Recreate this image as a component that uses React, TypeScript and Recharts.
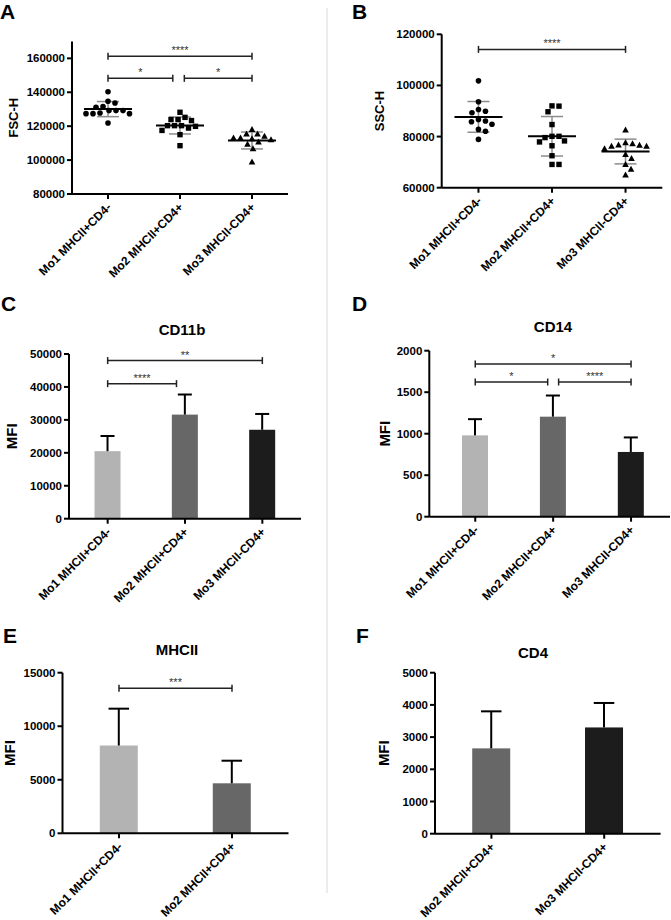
import React from 'react';
import { ScatterChart, Scatter, BarChart, Bar, XAxis, YAxis, ErrorBar, ReferenceLine } from 'recharts';

const FONT = '"Liberation Sans", Arial, Helvetica, sans-serif';

const groups = ['Mo1 MHCII+CD4-', 'Mo2 MHCII+CD4+', 'Mo3 MHCII-CD4+'];

// A: FSC-H, one value per sample
const fscMo1 = [140300, 133700, 134700, 131200, 129200, 129200, 129200, 131600, 127400, 127400, 127800, 127400, 121900];
const fscMo2 = [128200, 125200, 123900, 123300, 123900, 119900, 120300, 120300, 118900, 120300, 117500, 115000, 108500];
const fscMo3 = [118000, 115400, 115400, 114000, 112600, 113000, 113000, 112000, 109400, 110600, 106700, 98800];
const fscTicks = [80000, 100000, 120000, 140000, 160000];

// B: SSC-H
const sscMo1 = [101800, 93600, 89900, 90600, 89300, 85800, 86700, 86100, 84800, 82800, 82100, 78900];
const sscMo2 = [91900, 92000, 89700, 84700, 80100, 79600, 80100, 77900, 78300, 76400, 72500, 69100, 69100];
const sscMo3 = [82600, 77200, 77600, 76700, 76600, 76200, 76200, 75200, 73000, 71400, 69100, 67200, 65000];
const sscTicks = [60000, 80000, 100000, 120000];

// C-F: mean MFI + SD
const cd11bMean = [20500, 31600, 27000];
const cd11bSd = [4600, 6100, 4800];
const cd11bTicks = [0, 10000, 20000, 30000, 40000, 50000];

const cd14Mean = [980, 1205, 780];
const cd14Sd = [195, 255, 175];
const cd14Ticks = [0, 500, 1000, 1500, 2000];

const mhciiMean = [8200, 4670];
const mhciiSd = [3440, 2110];
const mhciiTicks = [0, 5000, 10000, 15000];

const cd4Mean = [2650, 3300];
const cd4Sd = [1150, 760];
const cd4Ticks = [0, 1000, 2000, 3000, 4000, 5000];

const barFills = ['#b3b3b3', '#676767', '#1c1c1c'];

// significance brackets (x in group units, group centre = i + 0.5)
const fscSig = [
  { from: 0.5, to: 2.5, y: 161200, stars: '****' },
  { from: 0.5, to: 1.4, y: 148200, stars: '*' },
  { from: 1.56, to: 2.5, y: 148200, stars: '*' },
];
const sscSig = [{ from: 0.5, to: 2.5, y: 114100, stars: '****' }];
const cd11bSig = [
  { from: 0.5, to: 2.5, y: 48000, stars: '**' },
  { from: 0.5, to: 1.39, y: 41000, stars: '****' },
];
const cd14Sig = [
  { from: 0.5, to: 2.5, y: 1840, stars: '*' },
  { from: 0.5, to: 1.43, y: 1623, stars: '*' },
  { from: 1.57, to: 2.5, y: 1623, stars: '****' },
];
const mhciiSig = [{ from: 0.5, to: 1.5, y: 13550, stars: '***' }];

type Sig = { from: number; to: number; y: number; stars: string };
type Box = { left: number; top: number; width: number; height: number; yw: number; mt: number; mr: number; xh: number; padL?: number };

// simple beeswarm: horizontal offsets (px) so that markers don't overlap
function swarm(values: number[], pxPerUnit: number, minDist: number) {
  const order = values.map((_, i) => i).sort((a, b) => values[b] - values[a]);
  const placed: { x: number; y: number }[] = [];
  const out = new Array(values.length).fill(0);
  for (const i of order) {
    const y = values[i] * pxPerUnit;
    for (let k = 0; k < 400; k++) {
      const cand = (k % 2 === 1 ? 1 : -1) * Math.ceil(k / 2) * 0.5;
      if (placed.every((p) => Math.hypot(p.x - cand, p.y - y) >= minDist)) {
        out[i] = cand;
        placed.push({ x: cand, y });
        break;
      }
    }
  }
  return out;
}

const meanSd = (v: number[]) => {
  const m = v.reduce((a, b) => a + b, 0) / v.length;
  const s = Math.sqrt(v.reduce((a, b) => a + (b - m) * (b - m), 0) / (v.length - 1));
  return { m, s };
};

const GroupTick = (p: any) => {
  const { x, y, payload, names } = p;
  const v = payload.value;
  const label = typeof v === 'number' ? names[Math.floor(v)] : v;
  const ax = x + 4;
  const ay = y + 7;
  return (
    <text x={ax} y={ay} transform={`rotate(-45 ${ax} ${ay})`} textAnchor="end" fontSize={12} fontWeight={700} fill="#000">
      {label}
    </text>
  );
};

const NumTick = (p: any) => (
  <text x={p.x} y={p.y} dy={4} textAnchor="end" fontSize={11.5} fontWeight={700} fill="#000">
    {p.payload.value}
  </text>
);

const bracket = (stars: string) => (p: any) => {
  const { x1, y1, x2, y2 } = p;
  return (
    <g>
      <line x1={x1} y1={y1} x2={x2} y2={y2} stroke="#222" strokeWidth={1.5} />
      <line x1={x1} y1={y1 - 3.5} x2={x1} y2={y1 + 3.5} stroke="#222" strokeWidth={1.5} />
      <line x1={x2} y1={y2 - 3.5} x2={x2} y2={y2 + 3.5} stroke="#222" strokeWidth={1.5} />
      <text x={(x1 + x2) / 2} y={y1 - 2} textAnchor="middle" fontSize={11} fill="#333">
        {stars}
      </text>
    </g>
  );
};

const Circle = (p: any) => <circle cx={p.cx} cy={p.cy} r={2.8} fill="#000" />;
const Square = (p: any) => <rect x={p.cx - 2.7} y={p.cy - 2.7} width={5.4} height={5.4} fill="#000" />;
const Tri = (p: any) => (
  <polygon points={`${p.cx},${p.cy - 3.5} ${p.cx + 3.3},${p.cy + 2.5} ${p.cx - 3.3},${p.cy + 2.5}`} fill="#000" />
);
const MeanLine = (p: any) => <line x1={p.cx - 24} y1={p.cy} x2={p.cx + 24} y2={p.cy} stroke="#000" strokeWidth={2} />;
const markers = [Circle, Square, Tri];

const SdBar = (p: any) => {
  const { x, y, width, height, payload } = p;
  const k = height / payload.value;
  const top = y - payload.sd * k;
  const cx = x + width / 2;
  const half = width * 0.27;
  return (
    <g>
      <rect x={x} y={y} width={width} height={height} fill={payload.fill} />
      <line x1={cx} y1={y} x2={cx} y2={top} stroke="#000" strokeWidth={2} />
      <line x1={cx - half} y1={top} x2={cx + half} y2={top} stroke="#000" strokeWidth={2} />
    </g>
  );
};

const yLabel = (value: string, offset: number, size: number) => ({
  value,
  angle: -90,
  position: 'insideLeft' as const,
  offset,
  fill: '#000',
  fontWeight: 700,
  fontSize: size,
  style: { textAnchor: 'middle', fontSize: size, fontWeight: 700, fill: '#000' },
});

const axisLn = { stroke: '#000', strokeWidth: 2 };

function DotPanel(props: { box: Box; sets: number[][]; domain: [number, number]; ticks: number[]; label: string; labelX: number; sig: Sig[] }) {
  const { box, sets, domain, ticks, label, labelX, sig } = props;
  const plotH = box.height - box.mt - box.xh;
  const plotW = box.width - box.yw - box.mr;
  const pxY = plotH / (domain[1] - domain[0]);
  const pxX = plotW / sets.length;
  const series = sets.map((vals, g) => {
    const offs = swarm(vals, pxY, 7);
    return vals.map((v, i) => ({ x: g + 0.5 + offs[i] / pxX, y: v }));
  });
  const stats = sets.map((vals, g) => {
    const { m, s } = meanSd(vals);
    return { x: g + 0.5, y: m, sd: s };
  });
  return (
    <div style={{ position: 'absolute', left: box.left, top: box.top }}>
      <ScatterChart width={box.width} height={box.height} margin={{ top: box.mt, right: box.mr, bottom: 0, left: 0 }}>
        <XAxis
          type="number"
          dataKey="x"
          domain={[0, sets.length]}
          ticks={sets.map((_, i) => i + 0.5)}
          interval={0}
          height={box.xh}
          axisLine={axisLn}
          tickLine={axisLn}
          tickSize={5}
          tick={(p: any) => <GroupTick {...p} names={groups} />}
        />
        <YAxis
          type="number"
          dataKey="y"
          domain={domain}
          ticks={ticks}
          interval={0}
          width={box.yw}
          axisLine={axisLn}
          tickLine={axisLn}
          tickSize={5}
          tick={NumTick}
          label={yLabel(label, labelX, 13)}
        />
        {series.map((d, g) => (
          <Scatter key={g} data={d} shape={markers[g]} isAnimationActive={false} />
        ))}
        <Scatter data={stats} shape={MeanLine} isAnimationActive={false}>
          <ErrorBar dataKey="sd" direction="y" width={11} stroke="#8c8c8c" strokeWidth={1.5} />
        </Scatter>
        {sig.map((s, i) => (
          <ReferenceLine key={i} ifOverflow="visible" segment={[{ x: s.from, y: s.y }, { x: s.to, y: s.y }]} shape={bracket(s.stars)} />
        ))}
      </ScatterChart>
    </div>
  );
}

function BarPanel(props: { box: Box; names: string[]; means: number[]; sds: number[]; fills: string[]; domain: [number, number]; ticks: number[]; labelX: number; sig: Sig[] }) {
  const { box, names, means, sds, fills, domain, ticks, labelX, sig } = props;
  const rows = names.map((name, i) => ({ name, pos: i + 0.5, value: means[i], sd: sds[i], fill: fills[i] }));
  const pad = { left: box.padL || 0, right: 0 };
  return (
    <div style={{ position: 'absolute', left: box.left, top: box.top }}>
      <BarChart width={box.width} height={box.height} data={rows} barCategoryGap="33%" margin={{ top: box.mt, right: box.mr, bottom: 0, left: 0 }}>
        <XAxis
          dataKey="name"
          interval={0}
          height={box.xh}
          padding={pad}
          axisLine={axisLn}
          tickLine={axisLn}
          tickSize={5}
          tick={(p: any) => <GroupTick {...p} names={names} />}
        />
        <XAxis xAxisId="n" dataKey="pos" type="number" domain={[0, names.length]} allowDataOverflow padding={pad} hide />
        <YAxis
          domain={domain}
          ticks={ticks}
          interval={0}
          width={box.yw}
          axisLine={axisLn}
          tickLine={axisLn}
          tickSize={5}
          tick={NumTick}
          label={yLabel('MFI', labelX, 15)}
        />
        <Bar dataKey="value" shape={SdBar} isAnimationActive={false} />
        {sig.map((s, i) => (
          <ReferenceLine key={i} xAxisId="n" ifOverflow="visible" segment={[{ x: s.from, y: s.y }, { x: s.to, y: s.y }]} shape={bracket(s.stars)} />
        ))}
      </BarChart>
    </div>
  );
}

export default function App() {
  const letter = { fontSize: 21, fontWeight: 700, fill: '#000' };
  const title = { fontSize: 15, fontWeight: 700, fill: '#000', textAnchor: 'middle' as const };
  return (
    <div style={{ position: 'absolute', left: 0, top: 0, width: 671, height: 920, background: '#fff', fontFamily: FONT }}>
      <DotPanel
        box={{ left: 0, top: 0, width: 320, height: 300, yw: 72, mt: 41.4, mr: 32, xh: 106 }}
        sets={[fscMo1, fscMo2, fscMo3]}
        domain={[80000, 170000]}
        ticks={fscTicks}
        label="FSC-H"
        labelX={13}
        sig={fscSig}
      />
      <DotPanel
        box={{ left: 335, top: 0, width: 336, height: 300, yw: 106.7, mt: 34.3, mr: 8.7, xh: 112.3 }}
        sets={[sscMo1, sscMo2, sscMo3]}
        domain={[60000, 120000]}
        ticks={sscTicks}
        label="SSC-H"
        labelX={44}
        sig={sscSig}
      />
      <BarPanel
        box={{ left: 0, top: 300, width: 320, height: 320, yw: 69, mt: 54, mr: 19, xh: 101.3 }}
        names={groups}
        means={cd11bMean}
        sds={cd11bSd}
        fills={barFills}
        domain={[0, 50000]}
        ticks={cd11bTicks}
        labelX={12}
        sig={cd11bSig}
      />
      <BarPanel
        box={{ left: 335, top: 300, width: 336, height: 320, yw: 94.3, mt: 50.7, mr: 1, xh: 103.3, padL: 7 }}
        names={groups}
        means={cd14Mean}
        sds={cd14Sd}
        fills={barFills}
        domain={[0, 2000]}
        ticks={cd14Ticks}
        labelX={50}
        sig={cd14Sig}
      />
      <BarPanel
        box={{ left: 0, top: 610, width: 320, height: 310, yw: 62.5, mt: 62.7, mr: 31.5, xh: 86.7 }}
        names={groups.slice(0, 2)}
        means={mhciiMean}
        sds={mhciiSd}
        fills={barFills.slice(0, 2)}
        domain={[0, 15000]}
        ticks={mhciiTicks}
        labelX={10}
        sig={mhciiSig}
      />
      <BarPanel
        box={{ left: 335, top: 610, width: 336, height: 310, yw: 100, mt: 62.7, mr: 10.4, xh: 86.3 }}
        names={groups.slice(1)}
        means={cd4Mean}
        sds={cd4Sd}
        fills={barFills.slice(1)}
        domain={[0, 5000]}
        ticks={cd4Ticks}
        labelX={49}
        sig={[]}
      />

      <svg width={671} height={920} style={{ position: 'absolute', left: 0, top: 0, pointerEvents: 'none' }}>
        <line x1={327} y1={8} x2={327} y2={893} stroke="#d9d9d9" strokeWidth={1} />
        <text x={0} y={19} {...letter}>A</text>
        <text x={352} y={19} {...letter}>B</text>
        <text x={1} y={311} {...letter}>C</text>
        <text x={352} y={311} {...letter}>D</text>
        <text x={3} y={643} {...letter}>E</text>
        <text x={356} y={643} {...letter}>F</text>
        <text x={182} y={335} {...title}>CD11b</text>
        <text x={553} y={332} {...title}>CD14</text>
        <text x={177} y={655} {...title}>MHCII</text>
        <text x={533} y={658} {...title}>CD4</text>
      </svg>
    </div>
  );
}
